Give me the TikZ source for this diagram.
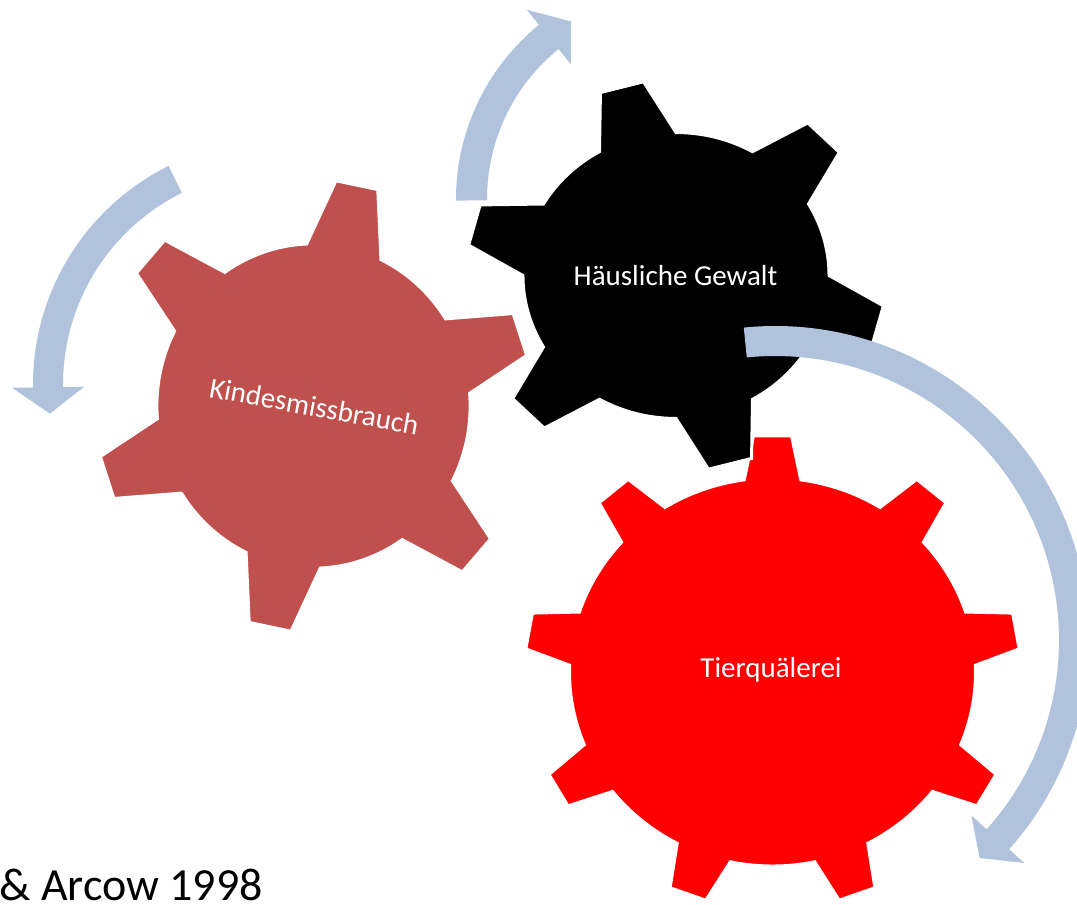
\documentclass[tikz,border=0pt]{standalone}
\usepackage{fontspec}
\setmainfont{Carlito}
\usepackage{xcolor}

\definecolor{gearbrown}{RGB}{192,80,77}
\definecolor{gearred}{RGB}{255,0,0}
\definecolor{arrowblue}{RGB}{176,194,220}

% teeth, phase, body radius, tip radius, base half angle, tip half angle
\newcommand{\gearpath}[6]{({#2-#5}:#3)
  \foreach \k in {1,...,#1}{
    -- ({#2+(\k-1)*360/#1-#6}:#4) -- ({#2+(\k-1)*360/#1+#6}:#4)
    -- ({#2+(\k-1)*360/#1+#5}:#3)
    arc[start angle={#2+(\k-1)*360/#1+#5}, end angle={#2+\k*360/#1-#5}, radius=#3]
  } -- cycle}

% start, end, tip angle, mid radius, half width, head half width
\newcommand{\ringarrow}[6]{({#1}:{#4+#5})
  arc[start angle=#1, end angle=#2, radius={#4+#5}]
  -- ({#2}:{#4+#6}) -- ({#3}:#4) -- ({#2}:{#4-#6}) -- ({#2}:{#4-#5})
  arc[start angle=#2, end angle=#1, radius={#4-#5}] -- cycle}

\begin{document}
\begin{tikzpicture}[
    x=1pt, y=1pt,
    gear/.style={draw=white,line width=3pt},
    gearlabel/.style={text=white,inner sep=0pt,font=\fontsize{29}{35}\selectfont},
    cycarrow/.style={fill=arrowblue}
]

% Page frame
\path[use as bounding box,fill=white] (0,0) rectangle (1077,-905);

% Gears (red first, black on top)
\fill[gear,fill=gearred,shift={(772.5,-672)},xscale=1.02,yscale=0.975] \gearpath{9}{90}{199}{243}{8}{4.4};
\fill[gear,fill=gearbrown,shift={(313.5,-406)},xscale=0.985,yscale=1.02] \gearpath{6}{18.5}{159}{222}{14}{5.6};
\fill[gear,fill=black,shift={(676,-275.5)},xscale=1.034,yscale=0.966] \gearpath{6}{45}{148}{203}{15}{6.1};

% Gear labels
\node[gearlabel,anchor=base,rotate=-10.3] (kind) at (312.5,-416) {Kindesmissbrauch};
\node[gearlabel,anchor=base] (haus) at (675.5,-285) {Häusliche Gewalt};
\node[gearlabel,anchor=base] (tier) at (771,-677) {Tierquälerei};

% Circular arrows
\fill[cycarrow,shift={(277,-384.5)}] \ringarrow{116.4}{180.7}{187.3}{229}{15}{36};
\fill[cycarrow,shift={(680,-199)}] \ringarrow{180.4}{129}{121.6}{208.5}{15.5}{35};
\fill[cycarrow,shift={(775,-640)}] \ringarrow{95.7}{-41.8}{-46.8}{299}{15}{35.6};

% Source (cut at the left edge)
\node[anchor=base east,inner sep=0pt,font=\fontsize{46}{54}\selectfont] (cite) at (263,-900) {\& Arcow 1998};

\end{tikzpicture}
\end{document}
